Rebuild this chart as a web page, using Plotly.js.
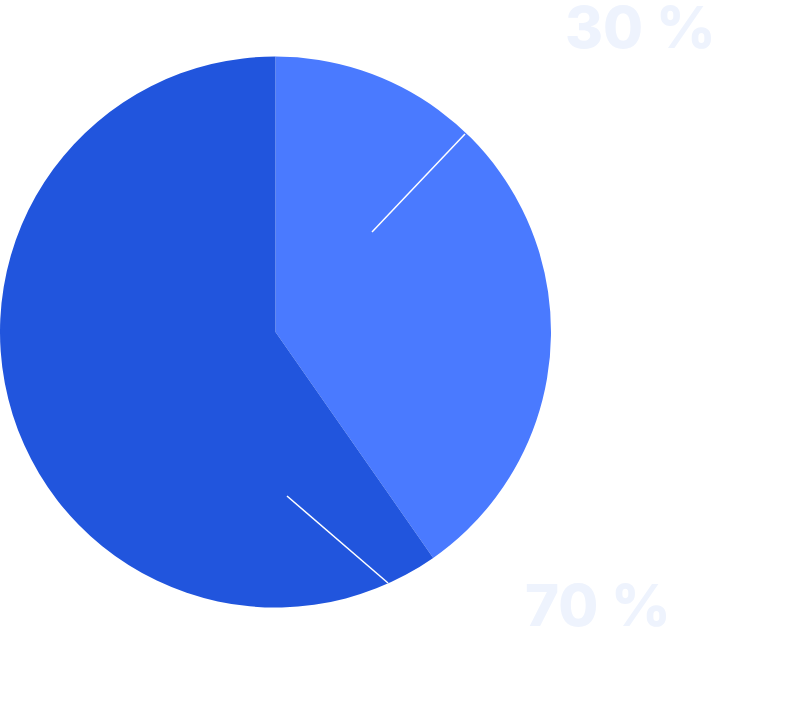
<!DOCTYPE html>
<html>
<head>
<meta charset="utf-8">
<script src="https://cdn.plot.ly/plotly-3.0.1.min.js"></script>
<style>html,body{margin:0;padding:0;background:#fff;}#chart{width:811px;height:726px;}</style>
</head>
<body>
<div id="chart"></div>
<script>
const sliceLabels = ["A", "B"];
const sliceValues = [40.3, 59.7];
const sliceColors = ["#4A7AFF", "#2155DD"];
const labelTexts = ["30 %", "70 %"];

const W = 811, H = 726;
const px = (x) => x / W;
const py = (y) => 1 - y / H;

const trace = {
  type: "pie",
  labels: sliceLabels,
  values: sliceValues,
  sort: false,
  direction: "clockwise",
  rotation: 0,
  marker: { colors: sliceColors, line: { width: 0 } },
  textinfo: "none",
  hoverinfo: "none",
  showlegend: false,
  domain: { x: [0, px(551)], y: [py(607.5), py(56.5)] }
};

const layout = {
  width: W, height: H,
  margin: { l: 0, r: 0, t: 0, b: 0 },
  paper_bgcolor: "#ffffff",
  showlegend: false,
  shapes: [
    { type: "line", xref: "paper", yref: "paper", x0: px(465), y0: py(134), x1: px(372), y1: py(232), line: { color: "#ffffff", width: 1.5 } },
    { type: "line", xref: "paper", yref: "paper", x0: px(388), y0: py(583), x1: px(287), y1: py(496), line: { color: "#ffffff", width: 1.5 } }
  ],
  annotations: [
    { text: labelTexts[0], xref: "paper", yref: "paper", x: px(640), y: py(27), xanchor: "center", yanchor: "middle", showarrow: false, font: { family: "Inter", size: 58, weight: 800, color: "#EEF3FD" } },
    { text: labelTexts[1], xref: "paper", yref: "paper", x: px(598), y: py(605), xanchor: "center", yanchor: "middle", showarrow: false, font: { family: "Inter", size: 58, weight: 800, color: "#EEF3FD" } }
  ]
};

Plotly.newPlot("chart", [trace], layout, { displayModeBar: false, staticPlot: true });
</script>
</body>
</html>
